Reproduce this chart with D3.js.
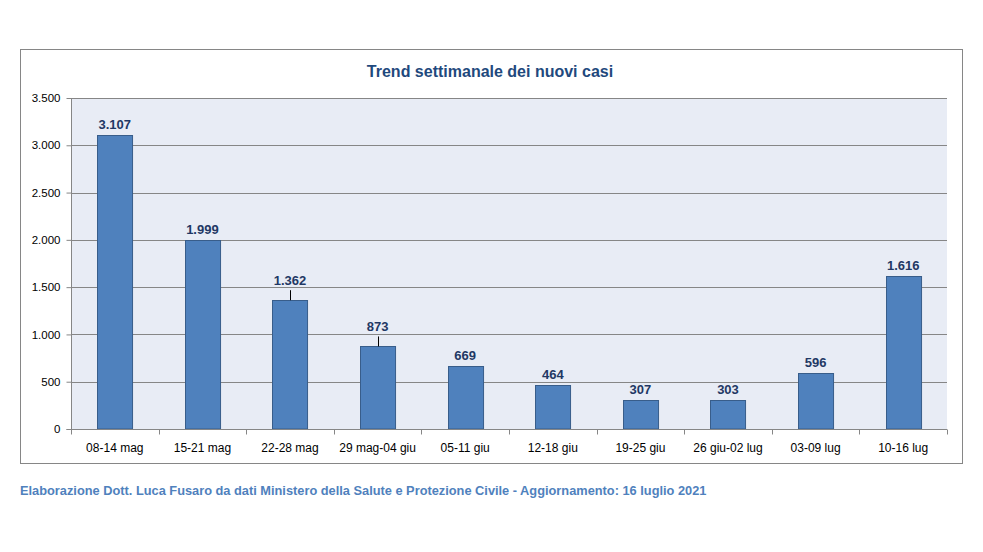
<!DOCTYPE html>
<html>
<head>
<meta charset="utf-8">
<script src="https://cdn.jsdelivr.net/npm/d3@7"></script>
<style>
  body { margin: 0; background: #fff; }
  svg { font-family: "Liberation Sans", "DejaVu Sans", sans-serif; }
</style>
</head>
<body>
<svg id="chart"></svg>
<script>
const weeks = ['08-14 mag', '15-21 mag', '22-28 mag', '29 mag-04 giu', '05-11 giu',
               '12-18 giu', '19-25 giu', '26 giu-02 lug', '03-09 lug', '10-16 lug']
const newCases = [3107, 1999, 1362, 873, 669, 464, 307, 303, 596, 1616]
const yTicks = [0, 500, 1000, 1500, 2000, 2500, 3000, 3500]
// labels lifted above the bar with a small leader line
const lifted = [false, false, true, true, false, false, false, false, false, false]

const width = 983, height = 552
const margin = {top: 98, right: 36, bottom: 123, left: 71}
const chart_width = width - margin.left - margin.right
const chart_height = height - margin.top - margin.bottom

const fmt = d3.formatLocale({decimal: ',', thousands: '.', grouping: [3], currency: ['€', '']}).format(',')

const svg = d3.select('#chart').attr('width', width).attr('height', height)

// outer frame
svg.append('rect')
    .attr('x', 20.5).attr('y', 49.5)
    .attr('width', 942).attr('height', 414)
    .attr('fill', '#fff').attr('stroke', '#868686')

svg.append('text')
    .attr('x', 490).attr('y', 77)
    .attr('text-anchor', 'middle')
    .attr('font-size', 16).attr('font-weight', 700)
    .attr('fill', '#1f497d')
    .text('Trend settimanale dei nuovi casi')

const chart = svg.append('g').attr('transform', `translate(${margin.left},${margin.top})`)

const xScale = d3.scaleBand().domain(weeks).range([0, chart_width]).paddingInner(0.6).paddingOuter(0.3)
const xBoundary = d3.scaleLinear().domain([0, weeks.length]).range([0, chart_width])
const yScale = d3.scaleLinear().domain([0, 3500]).range([chart_height, 0])

chart.append('rect')
    .attr('width', chart_width).attr('height', chart_height)
    .attr('fill', '#e8ecf5')

// gridlines
chart.selectAll('.grid').data(yTicks.filter(d => d > 0)).enter().append('line')
    .attr('class', 'grid')
    .attr('x1', 0).attr('x2', chart_width)
    .attr('y1', d => Math.round(yScale(d)) + 0.5).attr('y2', d => Math.round(yScale(d)) + 0.5)
    .attr('stroke', '#868686')

// bars
chart.selectAll('.bar').data(newCases).enter().append('rect')
    .attr('class', 'bar')
    .attr('x', (d, i) => Math.round(xScale(weeks[i])) + 0.5)
    .attr('y', d => Math.round(yScale(d)) + 0.5)
    .attr('width', xScale.bandwidth())
    .attr('height', d => chart_height - Math.round(yScale(d)) - 0.5)
    .attr('fill', '#4f81bd').attr('stroke', '#385d8a')

// y axis
const yAxis = d3.axisLeft(yScale).tickValues(yTicks).tickSize(5).tickPadding(6).tickFormat(fmt)
const yAxisG = chart.append('g').attr('transform', 'translate(0.5,0)').call(yAxis)
yAxisG.select('.domain').attr('stroke', '#868686').attr('d', `M-5,${chart_height + 0.5}H0V0`)
yAxisG.selectAll('.tick line').attr('stroke', '#868686')
yAxisG.selectAll('.tick text').attr('font-size', 11.5).attr('fill', '#000')
yAxisG.attr('font-family', null)

// x axis
const xAxisG = chart.append('g').attr('transform', `translate(0,${chart_height + 0.5})`)
xAxisG.append('line').attr('x1', 0).attr('x2', chart_width).attr('stroke', '#868686')
xAxisG.selectAll('.xtick').data(d3.range(weeks.length + 1)).enter().append('line')
    .attr('class', 'xtick')
    .attr('x1', d => Math.round(xBoundary(d)) + 0.5).attr('x2', d => Math.round(xBoundary(d)) + 0.5)
    .attr('y1', 0).attr('y2', 5)
    .attr('stroke', '#868686')
xAxisG.selectAll('.xlabel').data(weeks).enter().append('text')
    .attr('class', 'xlabel')
    .attr('x', d => xScale(d) + xScale.bandwidth() / 2)
    .attr('y', 22)
    .attr('text-anchor', 'middle')
    .attr('font-size', 12)
    .text(d => d)

// value labels
const labelOffset = i => lifted[i] ? 15 : 6
chart.selectAll('.leader').data(newCases).enter()
    .filter((d, i) => lifted[i])
    .append('line')
    .attr('class', 'leader')
    .attr('x1', d => Math.round(xScale(weeks[newCases.indexOf(d)]) + xScale.bandwidth() / 2) + 0.5)
    .attr('x2', d => Math.round(xScale(weeks[newCases.indexOf(d)]) + xScale.bandwidth() / 2) + 0.5)
    .attr('y1', d => yScale(d) - 10).attr('y2', d => yScale(d))
    .attr('stroke', '#000')

chart.selectAll('.value').data(newCases).enter().append('text')
    .attr('class', 'value')
    .attr('x', (d, i) => xScale(weeks[i]) + xScale.bandwidth() / 2)
    .attr('y', (d, i) => yScale(d) - labelOffset(i))
    .attr('text-anchor', 'middle')
    .attr('font-size', 13).attr('font-weight', 700)
    .attr('fill', '#1f3864')
    .text(d => fmt(d))

svg.append('text')
    .attr('x', 20).attr('y', 495)
    .attr('font-size', 12.8).attr('font-weight', 700)
    .attr('fill', '#4f81bd')
    .text('Elaborazione Dott. Luca Fusaro da dati Ministero della Salute e Protezione Civile - Aggiornamento: 16 luglio 2021')
</script>
</body>
</html>
